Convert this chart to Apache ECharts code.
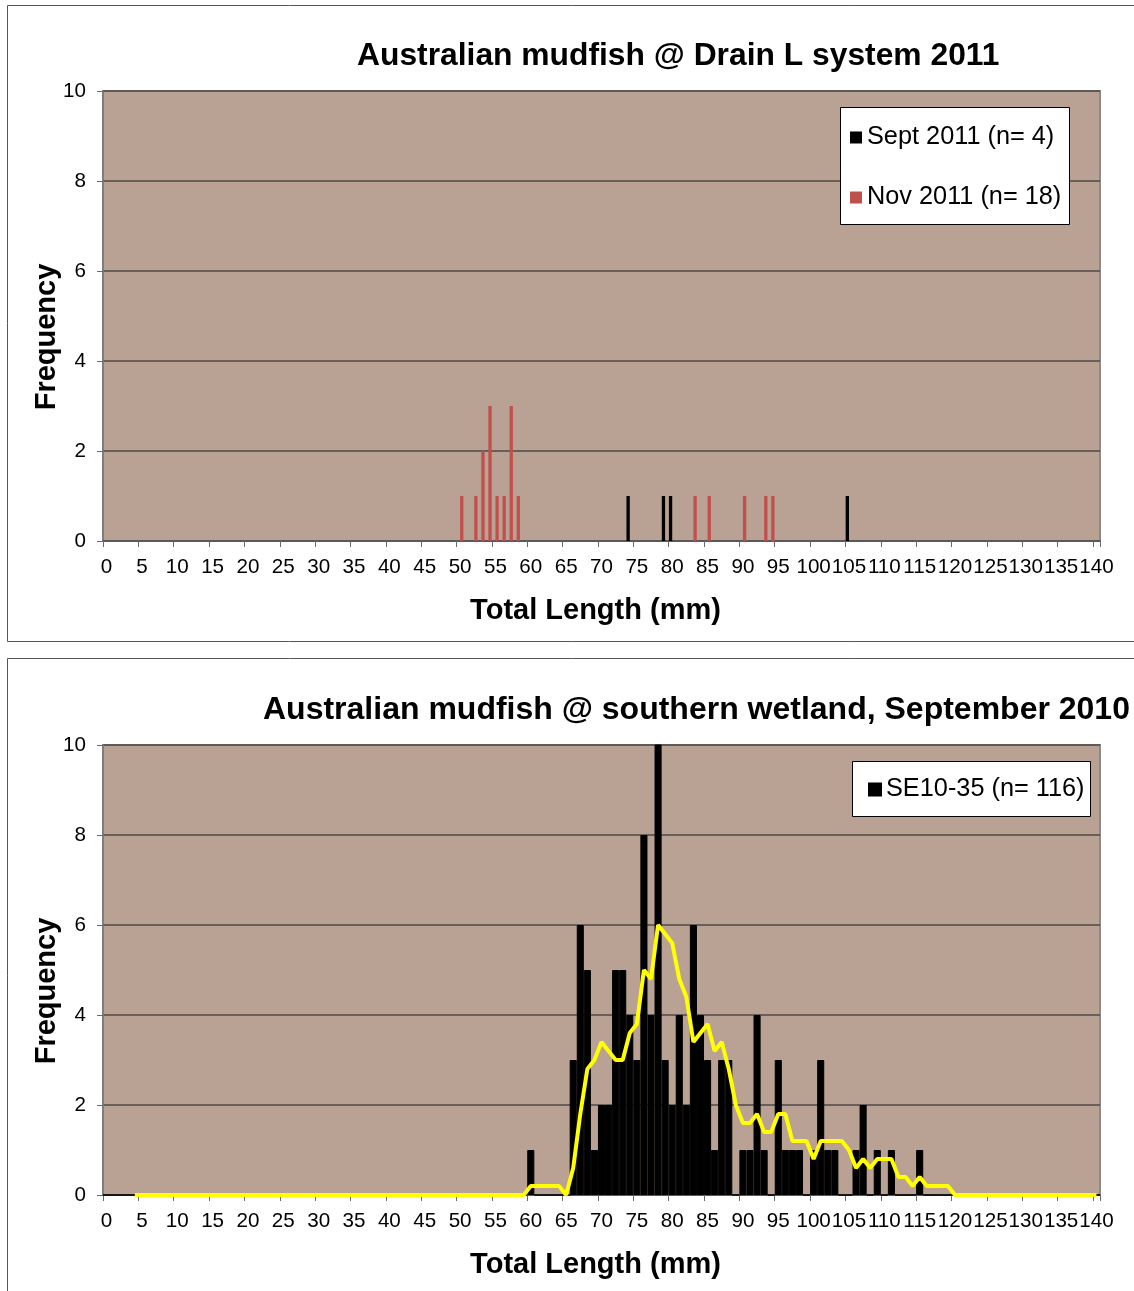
<!DOCTYPE html>
<html>
<head>
<meta charset="utf-8">
<script src="https://cdn.jsdelivr.net/npm/echarts@6/dist/echarts.min.js"></script>
<style>
  html, body { margin: 0; padding: 0; background: #ffffff; }
  #chart { width: 1134px; height: 1291px; }
</style>
</head>
<body>
<div id="chart"></div>
<script>
// Length classes on the x axis: 0..140 mm in 1 mm steps, labelled every 5 mm
const lengthMin = 0;
const lengthMax = 140;

// Drain L system 2011: [total length (mm), number of fish]
const sept2011Counts = [[74, 1], [79, 1], [80, 1], [105, 1]];
const nov2011Counts = [
  [50, 1], [52, 1], [53, 2], [54, 3], [55, 1], [56, 1], [57, 3], [58, 1],
  [83, 1], [85, 1], [90, 1], [93, 1], [94, 1]
];

// Southern wetland, September 2010: fish per 1 mm class, first class = 60 mm
const se1035Start = 60;
const se1035Counts = [
  1, 0, 0, 0, 0, 0, 3, 6, 5, 1,
  2, 2, 5, 5, 4, 3, 8, 4, 11, 3,
  2, 4, 2, 6, 4, 3, 1, 3, 3, 0,
  1, 1, 4, 1, 0, 3, 1, 1, 1, 0,
  1, 3, 1, 1, 0, 0, 1, 2, 0, 1,
  0, 1, 0, 0, 0, 1
];

// Moving-average trend line: runs from 4 mm to 140 mm, non-zero values from 60 mm
const trendFrom = 4;
const trendStart = 60;
const trendValues = [
  0.2, 0.2, 0.2, 0.2, 0.2, 0, 0.6, 1.8, 2.8, 3.0,
  3.4, 3.2, 3.0, 3.0, 3.6, 3.8, 5.0, 4.8, 6.0, 5.8,
  5.6, 4.8, 4.4, 3.4, 3.6, 3.8, 3.2, 3.4, 2.8, 2.0,
  1.6, 1.6, 1.8, 1.4, 1.4, 1.8, 1.8, 1.2, 1.2, 1.2,
  0.8, 1.2, 1.2, 1.2, 1.2, 1.0, 0.6, 0.8, 0.6, 0.8,
  0.8, 0.8, 0.4, 0.4, 0.2, 0.4, 0.2, 0.2, 0.2, 0.2,
  0
];

const yTicks = [0, 2, 4, 6, 8, 10];

// ---- tables for the library ----
const categories = [];
for (let v = lengthMin; v <= lengthMax; v++) categories.push(String(v));

function fromPairs(pairs) {
  const out = categories.map(() => 0);
  pairs.forEach(([len, n]) => { out[len - lengthMin] = n; });
  return out;
}
function fromRun(start, values) {
  const out = categories.map(() => 0);
  values.forEach((n, i) => { out[start + i - lengthMin] = n; });
  return out;
}

const septSeries = fromPairs(sept2011Counts);
const novSeries = fromPairs(nov2011Counts);
const seSeries = fromRun(se1035Start, se1035Counts);
const trendSeries = categories.map((c, i) => (i + lengthMin >= trendFrom ? 0 : null));
trendValues.forEach((v, i) => { trendSeries[trendStart + i - lengthMin] = v; });

const FONT = '"Liberation Sans", Arial, sans-serif';
const PLOT_BG = '#b9a193';
const GRID_LINE = '#4e4a48';

function xAxisFor(idx) {
  return {
    type: 'category',
    gridIndex: idx,
    data: categories,
    boundaryGap: true,
    axisLine: { show: true, lineStyle: { color: '#5a5a5a', width: 1.5 } },
    axisTick: { show: true, interval: 4, length: 6, lineStyle: { color: '#6a6a6a', width: 1 } },
    axisLabel: { interval: 4, fontSize: 20.6, color: '#000', fontFamily: FONT, margin: 16 },
    splitLine: { show: false },
    name: 'Total Length (mm)',
    nameLocation: 'middle',
    nameGap: 55,
    nameMoveOverlap: false,
    nameTextStyle: { fontSize: 29, fontWeight: 'bold', color: '#000', fontFamily: FONT, padding: [0, 12, 0, 0] }
  };
}
function yAxisFor(idx) {
  return {
    type: 'value',
    gridIndex: idx,
    min: yTicks[0],
    max: yTicks[yTicks.length - 1],
    interval: 2,
    axisLine: { show: true, lineStyle: { color: '#7a7a7a', width: 1.5 } },
    axisTick: { show: true, length: 6, lineStyle: { color: '#6a6a6a' } },
    axisLabel: { fontSize: 20.6, color: '#000', fontFamily: FONT, margin: 17 },
    splitLine: { show: true, lineStyle: { color: GRID_LINE, width: 1.5 } },
    name: 'Frequency',
    nameLocation: 'middle',
    nameRotate: 90,
    nameGap: 42,
    nameMoveOverlap: false,
    nameTextStyle: { fontSize: 29, fontWeight: 'bold', color: '#000', fontFamily: FONT, padding: [0, 42, 0, 0] }
  };
}

const chart = echarts.init(document.getElementById('chart'), null, { renderer: 'canvas' });

chart.setOption({
  animation: false,
  backgroundColor: '#ffffff',
  textStyle: { fontFamily: FONT },
  title: [
    {
      text: 'Australian mudfish @ Drain L system 2011',
      left: 357, top: 40, padding: 0,
      textStyle: { fontSize: 31.8, fontWeight: 'bold', color: '#000', fontFamily: FONT }
    },
    {
      text: 'Australian mudfish @ southern wetland, September 2010',
      left: 263, top: 694, padding: 0,
      textStyle: { fontSize: 32, fontWeight: 'bold', color: '#000', fontFamily: FONT }
    }
  ],
  graphic: [
    { type: 'rect', z: 0, silent: true,
      shape: { x: 7.5, y: 5.5, width: 1140, height: 636 },
      style: { fill: 'none', stroke: '#555', lineWidth: 1 } },
    { type: 'rect', z: 0, silent: true,
      shape: { x: 7.5, y: 658.5, width: 1140, height: 700 },
      style: { fill: 'none', stroke: '#555', lineWidth: 1 } },
    { type: 'rect', z: 5, silent: true,
      shape: { x: 840.5, y: 107.5, width: 229, height: 117 },
      style: { fill: '#fff', stroke: '#000', lineWidth: 1 } },
    { type: 'rect', z: 5, silent: true,
      shape: { x: 852.5, y: 761.5, width: 238, height: 55 },
      style: { fill: '#fff', stroke: '#000', lineWidth: 1 } }
  ],
  legend: [
    {
      data: ['Sept 2011 (n= 4)', 'Nov 2011 (n= 18)'],
      orient: 'vertical', left: 850, top: 125, padding: 0, z: 10,
      icon: 'rect', itemWidth: 12, itemHeight: 12, itemGap: 35,
      textStyle: { fontSize: 25.3, lineHeight: 24, color: '#000', fontFamily: FONT }
    },
    {
      data: ['SE10-35 (n= 116)'],
      orient: 'vertical', left: 868, top: 777, padding: 0, z: 10,
      icon: 'rect', itemWidth: 12, itemHeight: 12,
      textStyle: { fontSize: 25.3, lineHeight: 24, color: '#000', fontFamily: FONT }
    }
  ],
  grid: [
    { left: 103, top: 91, width: 997, height: 450, show: true,
      backgroundColor: PLOT_BG, borderColor: '#8a8a8a', borderWidth: 2 },
    { left: 103, top: 745, width: 997, height: 450, show: true,
      backgroundColor: PLOT_BG, borderColor: '#8a8a8a', borderWidth: 2 }
  ],
  xAxis: [xAxisFor(0), xAxisFor(1)],
  yAxis: [yAxisFor(0), yAxisFor(1)],
  series: [
    {
      name: 'Sept 2011 (n= 4)', type: 'bar', xAxisIndex: 0, yAxisIndex: 0,
      data: septSeries, itemStyle: { color: '#000000' },
      barGap: '0%', barCategoryGap: '6%', clip: true
    },
    {
      name: 'Nov 2011 (n= 18)', type: 'bar', xAxisIndex: 0, yAxisIndex: 0,
      data: novSeries, itemStyle: { color: '#c0504d' },
      barGap: '0%', barCategoryGap: '6%', clip: true
    },
    {
      name: 'SE10-35 (n= 116)', type: 'bar', xAxisIndex: 1, yAxisIndex: 1,
      data: seSeries, itemStyle: { color: '#000000', borderColor: '#000000', borderWidth: 1 },
      barCategoryGap: '0%', clip: true
    },
    {
      name: 'Moving average', type: 'line', xAxisIndex: 1, yAxisIndex: 1,
      data: trendSeries, showSymbol: false, symbol: 'none',
      lineStyle: { color: '#ffff00', width: 4 }, itemStyle: { color: '#ffff00' },
      z: 3, clip: true, connectNulls: false
    }
  ]
});
</script>
</body>
</html>
